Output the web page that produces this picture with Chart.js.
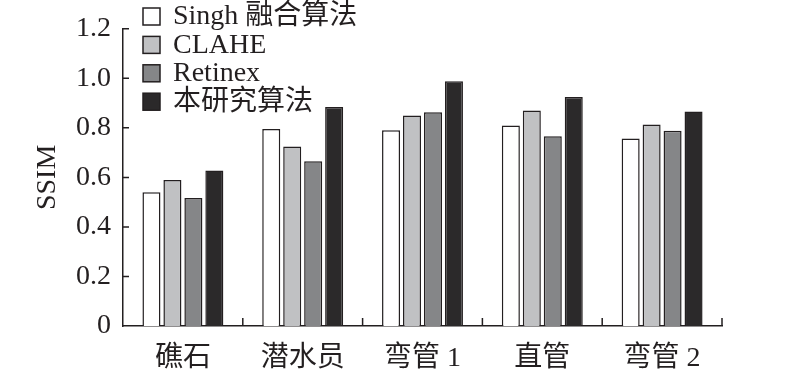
<!DOCTYPE html>
<html>
<head>
<meta charset="utf-8">
<script src="https://cdn.jsdelivr.net/npm/chart.js@4"></script>
<style>
  html, body { margin: 0; padding: 0; background: #fff; }
  #wrap { width: 800px; height: 370px; }
</style>
</head>
<body>
<div id="wrap"><canvas id="ssimChart"></canvas></div>
<script>
const categories = ['礁石', '潜水员', '弯管 1', '直管', '弯管 2'];
const singh   = [0.54, 0.795, 0.79, 0.81, 0.757];
const clahe   = [0.59, 0.725, 0.85, 0.87, 0.814];
const retinex = [0.517, 0.665, 0.863, 0.766, 0.788];
const ours    = [0.628, 0.884, 0.988, 0.925, 0.866];
const yTicks  = [0, 0.2, 0.4, 0.6, 0.8, 1.0, 1.2];

const FONT = "'Liberation Serif', 'Noto Sans CJK SC', serif";
const INK = '#231f20';

// legend drawn inside the plot, top-left
const boxLegend = {
    id: 'boxLegend',
    afterDraw(chart) {
        const ctx = chart.ctx;
        ctx.save();
        ctx.font = '28px ' + FONT;
        ctx.textBaseline = 'middle';
        chart.data.datasets.forEach(function (ds, i) {
            const y = 8 + i * 28.4;
            ctx.fillStyle = ds.backgroundColor;
            ctx.fillRect(143, y, 17, 17);
            ctx.strokeStyle = INK;
            ctx.lineWidth = 1.5;
            ctx.strokeRect(143, y, 17, 17);
            ctx.fillStyle = INK;
            ctx.fillText(ds.label, 173, y + 9);
        });
        ctx.restore();
    }
};

// short inward tick marks on both axes
const innerTicks = {
    id: 'innerTicks',
    afterDraw(chart) {
        const ctx = chart.ctx;
        const area = chart.chartArea;
        const ys = chart.scales.y;
        ctx.save();
        ctx.strokeStyle = INK;
        ctx.lineWidth = 1.5;
        ctx.beginPath();
        yTicks.forEach(function (v) {
            if (v === 0) return;
            const py = ys.getPixelForValue(v);
            ctx.moveTo(area.left, py);
            ctx.lineTo(area.left + 6, py);
        });
        const step = (area.right - area.left) / categories.length;
        for (let i = 1; i <= categories.length; i++) {
            const px = area.left + i * step;
            ctx.moveTo(px, area.bottom);
            ctx.lineTo(px, area.bottom - 8);
        }
        ctx.stroke();
        ctx.restore();
    }
};

const common = { borderColor: INK, borderWidth: 1.5, categoryPercentage: 0.7, barPercentage: 0.86 };

new Chart(document.getElementById('ssimChart'), {
    type: 'bar',
    data: {
        labels: categories,
        datasets: [
            Object.assign({ label: 'Singh 融合算法', data: singh, backgroundColor: '#ffffff' }, common),
            Object.assign({ label: 'CLAHE', data: clahe, backgroundColor: '#c0c1c3' }, common),
            Object.assign({ label: 'Retinex', data: retinex, backgroundColor: '#858688' }, common),
            Object.assign({ label: '本研究算法', data: ours, backgroundColor: '#2b292a' }, common)
        ]
    },
    options: {
        responsive: true,
        maintainAspectRatio: false,
        animation: false,
        layout: { padding: { left: 0, right: 78, top: 19, bottom: 0 } },
        plugins: {
            legend: { display: false },
            tooltip: { enabled: false }
        },
        scales: {
            x: {
                grid: { display: false },
                border: { display: true, color: INK, width: 1.5 },
                ticks: { color: INK, font: { family: FONT, size: 28 }, padding: 8, maxRotation: 0 },
                afterFit: function (s) { s.height = 44; }
            },
            y: {
                min: 0,
                max: 1.2,
                grid: { display: false, drawTicks: false },
                border: { display: true, color: INK, width: 1.5 },
                ticks: {
                    stepSize: 0.2,
                    padding: 12,
                    color: INK,
                    font: { family: FONT, size: 28 },
                    callback: function (v) { return v === 0 ? '0' : v.toFixed(1); }
                },
                title: {
                    display: true,
                    text: 'SSIM',
                    color: INK,
                    font: { family: FONT, size: 28 },
                    padding: { top: 31, bottom: 0 }
                },
                afterFit: function (s) { s.width = 123; }
            }
        }
    },
    plugins: [boxLegend, innerTicks]
});
</script>
</body>
</html>
